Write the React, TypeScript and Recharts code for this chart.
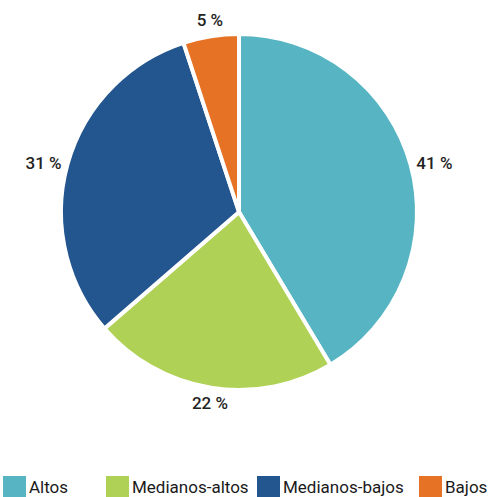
import React from "react";
import { PieChart, Pie, Cell, Legend } from "recharts";

const categories = ["Altos", "Medianos-altos", "Medianos-bajos", "Bajos"];
const shares = [41, 22, 31, 5];
const colors = ["#57B5C3", "#AFD155", "#23558F", "#E67225"];

const data = categories.map((name, i) => ({ name, value: shares[i] }));

const RAD = Math.PI / 180;

const renderLabel = (props: any) => {
  const { cx, cy, midAngle, outerRadius, value } = props;
  const r = outerRadius + 6;
  const cos = Math.cos(-midAngle * RAD);
  const sin = Math.sin(-midAngle * RAD);
  const x = cx + r * cos;
  const y = cy + r * sin;
  const anchor = cos > 0.3 ? "start" : cos < -0.3 ? "end" : "middle";
  let dy = "0.35em";
  if (sin < -0.5) dy = "-0.25em";
  else if (sin > 0.5) dy = "0.9em";
  return (
    <text
      x={x}
      y={y}
      dy={dy}
      textAnchor={anchor}
      fill="#222"
      fontFamily="Roboto, 'Open Sans', sans-serif"
      fontWeight={500}
      fontSize={17}
    >
      {`${value} %`}
    </text>
  );
};

const legendLefts = [3, 106, 257, 419];

const renderLegend = () => (
  <div style={{ position: "relative", width: 488, height: 21 }}>
    {categories.map((c, i) => (
      <div
        key={c}
        style={{
          position: "absolute",
          left: legendLefts[i],
          top: 0,
          display: "flex",
          alignItems: "center",
          height: 21,
        }}
      >
        <div style={{ width: 23, height: 21, background: colors[i] }} />
        <span
          style={{
            marginLeft: 3,
            fontFamily: "Roboto, sans-serif",
            fontSize: 17,
            color: "#1a1a1a",
            lineHeight: "21px",
            position: "relative",
            top: 1,
          }}
        >
          {c}
        </span>
      </div>
    ))}
  </div>
);

export default function App() {
  return (
    <div style={{ position: "absolute", left: 0, top: 0, width: 488, height: 497, background: "#fff" }}>
      <PieChart width={488} height={497} margin={{ top: 0, right: 0, bottom: 0, left: 0 }}>
        <Pie
          data={data}
          dataKey="value"
          nameKey="name"
          cx={239}
          cy={212}
          outerRadius={178}
          startAngle={90}
          endAngle={-270}
          stroke="#ffffff"
          strokeWidth={4}
          label={renderLabel}
          labelLine={false}
          isAnimationActive={false}
        >
          {data.map((d, i) => (
            <Cell key={d.name} fill={colors[i]} />
          ))}
        </Pie>
        <Legend
          content={renderLegend}
          wrapperStyle={{ position: "absolute", left: 0, top: 476, width: 488, height: 21 }}
        />
      </PieChart>
    </div>
  );
}
